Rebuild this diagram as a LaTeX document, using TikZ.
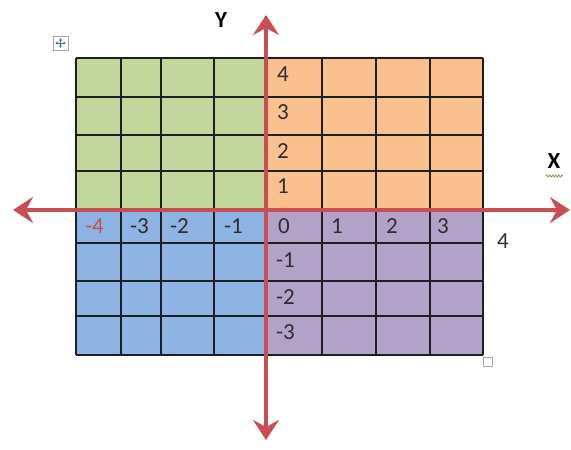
\documentclass[tikz,border=0pt]{standalone}
\usepackage{fontspec}
\setmainfont{Carlito}
\usetikzlibrary{arrows.meta,decorations.pathmorphing}
\definecolor{qgreen}{RGB}{195,214,155}
\definecolor{qorange}{RGB}{250,192,144}
\definecolor{qblue}{RGB}{142,180,227}
\definecolor{qpurple}{RGB}{179,162,199}
\definecolor{axred}{RGB}{200,78,84}
\definecolor{gridc}{RGB}{30,30,35}
\definecolor{txt}{RGB}{45,45,50}
\definecolor{iconblue}{RGB}{70,110,190}
\definecolor{wavy}{RGB}{110,160,90}
\begin{document}
\begin{tikzpicture}[x=1pt,y=-1pt,
  gridline/.style={draw=gridc,line width=1.6pt},
  axis/.style={draw=axred,line width=4pt,-{Stealth[length=20pt,width=26pt,inset=7pt]}},
  lbl/.style={font=\fontsize{23}{23}\selectfont,text=txt,inner sep=0pt,anchor=west},
  axlbl/.style={font=\fontsize{23}{23}\selectfont\bfseries,text=black,inner sep=0pt}]
\useasboundingbox (0,0) rectangle (571,450);
% quadrants
\fill[qgreen] (76,58) rectangle (267,209);
\fill[qorange] (267,58) rectangle (483,209);
\fill[qblue] (76,209) rectangle (267,355);
\fill[qpurple] (267,209) rectangle (483,355);
% grid
\foreach \x in {76,121,161,214,267,322,376,430,483}
  \draw[gridline] (\x,58) -- (\x,355);
\foreach \y in {58,97,135,171,209,243,281,316,355}
  \draw[gridline] (76,\y) -- (483,\y);
% axes
\coordinate (xl) at (13,210);
\coordinate (xr) at (570,210);
\coordinate (yt) at (266,15);
\coordinate (yb) at (266,440);
\coordinate (o) at (266,210);
\draw[axis] (o) -- (xr);
\draw[axis] (o) -- (xl);
\draw[axis] (o) -- (yt);
\draw[axis] (o) -- (yb);
% x labels
\node[lbl,text=axred] (xm4) at (85,226) {-4};
\node[lbl] (xm3) at (130,226) {-3};
\node[lbl] (xm2) at (170,226) {-2};
\node[lbl] (xm1) at (224,226) {-1};
\node[lbl] (x0) at (278,226) {0};
\node[lbl] (x1) at (331,226) {1};
\node[lbl] (x2) at (386,226) {2};
\node[lbl] (x3) at (437,226) {3};
\node[lbl] (x4) at (497,241) {4};
% y labels
\node[lbl] (y4) at (277,74) {4};
\node[lbl] (y3) at (277,112) {3};
\node[lbl] (y2) at (277,151) {2};
\node[lbl] (y1) at (277,186) {1};
\node[lbl] (ym1) at (276,260) {-1};
\node[lbl] (ym2) at (276,297) {-2};
\node[lbl] (ym3) at (276,332) {-3};
% axis names
\node[axlbl] (Y) at (221,20) {Y};
\node[axlbl] (X) at (554,161) {X};
\draw[wavy,line width=0.8pt,decorate,decoration={zigzag,segment length=3pt,amplitude=1pt}] (546,176) -- (563,176);
% move handle icon
\draw[gray!70,fill=white,line width=0.8pt] (53,36) rectangle (68,50);
\draw[iconblue,line width=0.9pt,{Latex[length=2.5pt,width=3pt]}-{Latex[length=2.5pt,width=3pt]}] (55,43) -- (66,43);
\draw[iconblue,line width=0.9pt,{Latex[length=2.5pt,width=3pt]}-{Latex[length=2.5pt,width=3pt]}] (60.5,38) -- (60.5,48);
% resize handle
\draw[gray!70,fill=white,line width=0.8pt] (483,357) rectangle (492,366);
\end{tikzpicture}
\end{document}
